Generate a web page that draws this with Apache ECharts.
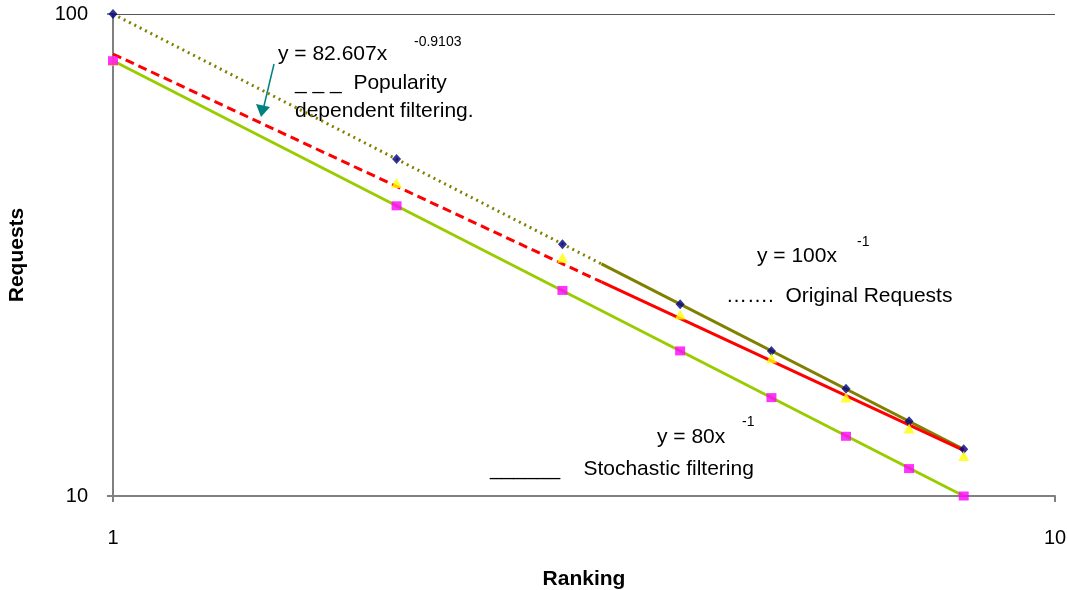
<!DOCTYPE html>
<html>
<head>
<meta charset="utf-8">
<script src="https://cdn.jsdelivr.net/npm/echarts@6/dist/echarts.min.js"></script>
<style>
  html, body { margin: 0; padding: 0; background: #fff; }
  #chart { width: 1068px; height: 590px; }
</style>
</head>
<body>
<div id="chart"></div>
<script>
// ranking positions
const rankings = [1, 2, 3, 4, 5, 6, 7, 8]
// measured requests
const originalRequests = [100, 50, 33.3, 25, 20, 16.7, 14.3, 12.5]
const popularityFiltered = [80, 44.6, 31.2, 23.8, 19.3, 16.0, 13.8, 12.1]
const stochasticFiltered = [80, 40, 26.7, 20, 16, 13.3, 11.4, 10]
// power trendlines (the dotted / dashed ones turn solid past ranking ~3.3)
const originalTrendDotted = [[1, 100], [3.3, 30.3]]
const originalTrendSolid = [[3.3, 30.3], [8, 12.5]]
const popularityTrendDashed = [[1, 82.607], [3.3, 27.8]]
const popularityTrendSolid = [[3.3, 27.8], [8, 12.44]]
const stochasticTrend = [[1, 80], [8, 10]]
// axis ticks
const xTicks = [1, 10]
const yTicks = [10, 100]

const font = 'Liberation Sans, Arial, sans-serif'
const pairs = (vals) => rankings.map((r, i) => [r, vals[i]])

const textEl = (x, y, text, size) => ({
  type: 'text', left: x, top: y,
  style: { text: text, fontSize: size, fontFamily: font, fill: '#000' }
})

const trend = (name, data, color, type, z) => ({
  name: name, type: 'line', data: data, symbol: 'none', z: z,
  lineStyle: { color: color, width: 3, type: type }
})

const chart = echarts.init(document.getElementById('chart'))
chart.setOption({
  backgroundColor: '#fff',
  animation: false,
  grid: { left: 113, right: 13, top: 14, bottom: 94, outerBoundsMode: 'none' },
  xAxis: {
    type: 'log', logBase: 10, min: xTicks[0], max: xTicks[1],
    name: 'Ranking', nameLocation: 'middle', nameGap: 73,
    nameTextStyle: { fontFamily: font, fontSize: 21, fontWeight: 'bold', color: '#000' },
    axisLine: { lineStyle: { color: '#808080', width: 2 } },
    axisTick: { show: true, length: 6, lineStyle: { color: '#808080', width: 2 } },
    axisLabel: { fontFamily: font, fontSize: 20, color: '#000', margin: 32 },
    splitLine: { show: false },
    minorTick: { show: false }
  },
  yAxis: {
    type: 'log', logBase: 10, min: yTicks[0], max: yTicks[1],
    name: 'Requests', nameLocation: 'middle', nameGap: 85,
    nameTextStyle: { fontFamily: font, fontSize: 21, fontWeight: 'bold', color: '#000' },
    axisLine: { show: true, lineStyle: { color: '#808080', width: 2 } },
    axisTick: { show: true, length: 6, lineStyle: { color: '#808080', width: 2 } },
    axisLabel: { fontFamily: font, fontSize: 20, color: '#000', margin: 25, padding: [5, 0, 0, 0] },
    splitLine: { show: true, lineStyle: { color: '#555', width: 1 } }
  },
  series: [
    trend('Original trend', originalTrendDotted, '#808000', [2, 4], 2),
    trend('Original trend solid', originalTrendSolid, '#808000', 'solid', 2),
    trend('Popularity trend', popularityTrendDashed, '#ff0000', [9, 5], 3),
    trend('Popularity trend solid', popularityTrendSolid, '#ff0000', 'solid', 3),
    trend('Stochastic trend', stochasticTrend, '#99cc00', 'solid', 2),
    {
      name: 'Original Requests', type: 'scatter', data: pairs(originalRequests), z: 5,
      symbol: 'diamond', symbolSize: [9, 10],
      itemStyle: { color: '#000080' }
    },
    {
      name: 'Popularity dependent filtering', type: 'scatter', data: pairs(popularityFiltered), z: 5,
      symbol: 'triangle', symbolSize: [11, 10],
      itemStyle: { color: '#ffff00' }
    },
    {
      name: 'Stochastic filtering', type: 'scatter', data: pairs(stochasticFiltered), z: 5,
      symbol: 'rect', symbolSize: [10, 9],
      itemStyle: { color: '#ff00ff' }
    }
  ],
  graphic: [
    textEl(278, 44, 'y = 82.607x', 21),
    textEl(414, 35, '-0.9103', 14),
    textEl(295, 73, '_ _ _  Popularity', 21),
    textEl(295, 101, 'dependent filtering.', 21),
    textEl(757, 246, 'y = 100x', 21),
    textEl(857, 235, '-1', 14),
    textEl(726, 286, '…….  Original Requests', 21),
    textEl(657, 427, 'y = 80x', 21),
    textEl(742, 415, '-1', 14),
    textEl(490, 459, '______    Stochastic filtering', 21),
    {
      type: 'line', shape: { x1: 274, y1: 64, x2: 263, y2: 110 },
      style: { stroke: '#008080', lineWidth: 1.5 }
    },
    {
      type: 'polygon', shape: { points: [[256, 104], [270, 107], [261, 117]] },
      style: { fill: '#008080' }
    }
  ]
})
</script>
</body>
</html>
